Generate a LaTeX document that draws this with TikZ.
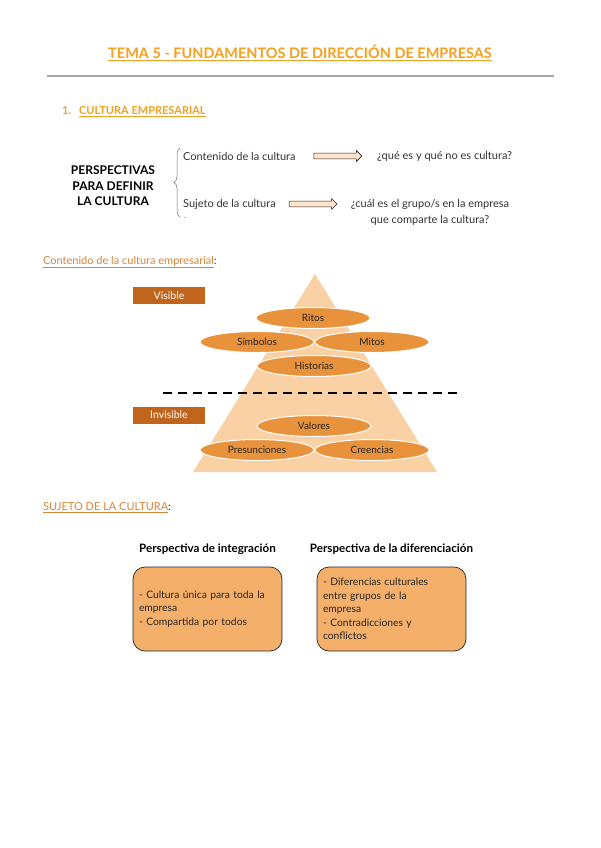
\documentclass[tikz,border=0pt]{standalone}
\usepackage{fontspec}
\setmainfont{Lato}
\usepackage{tikz}
\usetikzlibrary{positioning,arrows.meta,calc,shapes.geometric,shapes.arrows,decorations.pathreplacing}
\definecolor{titleorange}{HTML}{F5A01E}
\definecolor{secorange}{HTML}{D8843A}
\definecolor{ink}{HTML}{333333}
\definecolor{pyrfill}{HTML}{F9D1A5}
\definecolor{ellfill}{HTML}{E8923C}
\definecolor{tagfill}{HTML}{C1641C}
\definecolor{boxfill}{HTML}{F4B06B}
\definecolor{arrfill}{HTML}{FCE3CB}
\newcommand{\fsz}[2]{\fontsize{#1}{#2}\selectfont}

\begin{document}
\begin{tikzpicture}[x=1pt, y=-1pt,
  every node/.style={text=ink, font=\fsz{11}{13}},
  txt/.style={anchor=west, inner sep=0pt},
  blockarrow/.style={single arrow, draw=ink!80!black, fill=arrfill, line width=0.6pt,
    minimum height=48pt, inner sep=2.6pt, single arrow head extend=2.6pt},
  layer/.style={ellipse, draw=white, line width=1pt, fill=ellfill, minimum width=114pt,
    minimum height=21pt, inner sep=0pt, text=black!85, font=\fsz{10}{12}},
  tag/.style={fill=tagfill, minimum width=72pt, minimum height=17pt, inner sep=0pt,
    text=white, font=\fsz{10.5}{12}},
  card/.style={draw=ink!70!black, line width=0.7pt, rounded corners=12pt, fill=boxfill,
    minimum width=149pt, minimum height=84pt, text width=137pt, align=left,
    inner xsep=6pt, inner ysep=6pt, text=black!85, font=\fsz{10.3}{13.6}},
  head/.style={font=\bfseries\fsz{11.6}{13}, text=black}]
  \useasboundingbox[fill=white] (0,0) rectangle (600,848);

  % cabecera
  \node[text=titleorange, font=\bfseries\fsz{14.5}{16}] (title) at (300,53)
    {\underline{TEMA 5 - FUNDAMENTOS DE DIRECCIÓN DE EMPRESAS}};
  \draw[black!35, line width=1.3pt] (47,76) -- (554,76);
  \node[txt, text=titleorange, font=\bfseries\fsz{11}{13}] (sec1) at (62,112)
    {1.\hspace{8pt}\underline{CULTURA EMPRESARIAL}};

  % perspectivas
  \node[align=center, text=black, font=\bfseries\fsz{12}{15.5}] (persp) at (113,186)
    {PERSPECTIVAS\\PARA DEFINIR\\LA CULTURA};
  \draw[ink!70, line width=0.5pt, decorate, decoration={brace, amplitude=6pt}]
    (180,217) -- (180,148);
  \node[txt] (cont) at (183,156) {Contenido de la cultura};
  \node[txt] (q1) at (377,156) {¿qué es y qué no es cultura?};
  \node[txt] (suj) at (183,204) {Sujeto de la cultura};
  \node[align=center, font=\fsz{11}{16}] (q2) at (430,212)
    {¿cuál es el grupo/s en la empresa\\que comparte la cultura?};
  \node[txt, font=\fsz{8}{10}] (dot) at (184,218) {.};
  \node[blockarrow] (a1) at ($(cont.east)!0.5!(q1.west)$) {};
  \node[blockarrow] (a2) at ($(suj.east)!0.5!(q2.west |- suj.west)$) {};

  % contenido
  \node[txt] (sec2) at (43,262)
    {\textcolor{secorange}{\underline{Contenido de la cultura empresarial}}:};
  \fill[pyrfill] (315,274) -- (437,472) -- (193,472) -- cycle;
  \node[tag] (vis) at (169,295.5) {Visible};
  \node[tag] (invis) at (169,415) {Invisible};
  \node[layer] (ritos) at (313,318) {Ritos};
  \node[layer] (simb) at (257,342) {Símbolos};
  \node[layer] (mitos) at (372,342) {Mitos};
  \node[layer] (hist) at (314,366) {Historias};
  \draw[black, line width=1.8pt, dash pattern=on 9pt off 6pt] (163,393) -- (460,393);
  \node[layer] (val) at (314,426) {Valores};
  \node[layer] (pres) at (257,450) {Presunciones};
  \node[layer] (cree) at (372,450) {Creencias};

  % sujeto
  \node[txt] (sec3) at (43,508)
    {\textcolor{secorange}{\underline{SUJETO DE LA CULTURA}}:};
  \node[card] (integ) at (207.5,609)
    {- Cultura única para toda la\\empresa\\- Compartida por todos};
  \node[card] (difer) at (391.5,609)
    {- Diferencias culturales\\entre grupos de la\\empresa\\- Contradicciones y\\conflictos};
  \node[head, above=9pt of integ] (hinteg) {Perspectiva de integración};
  \node[head, above=9pt of difer] (hdifer) {Perspectiva de la diferenciación};
\end{tikzpicture}
\end{document}
